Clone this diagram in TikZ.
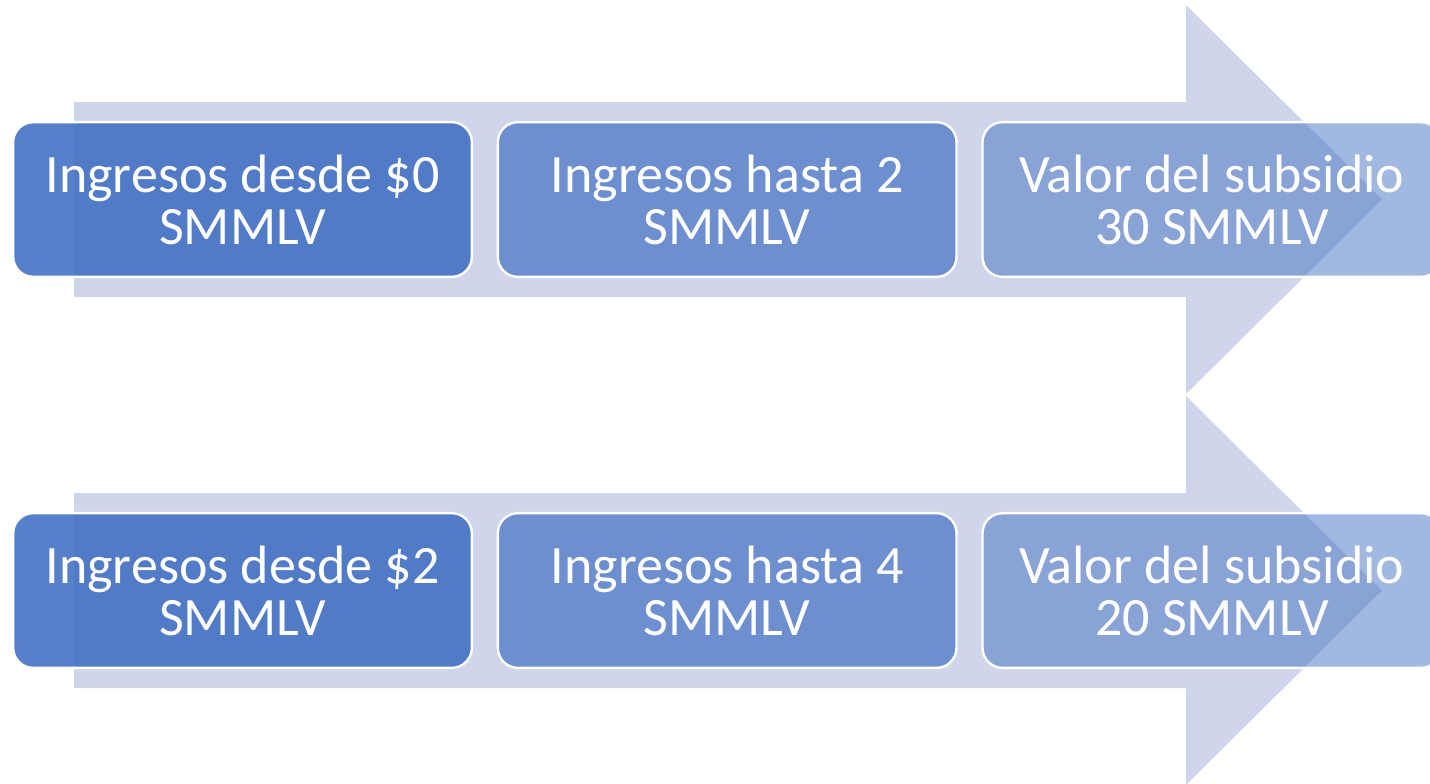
\documentclass[tikz,border=0pt]{standalone}
\usepackage{fontspec}
\setmainfont{Carlito}
\usetikzlibrary{positioning}
\definecolor{acento}{RGB}{68,114,196}
\definecolor{flecha}{RGB}{207,213,234}

\begin{document}
\begin{tikzpicture}[x=0.75pt, y=-0.75pt,
    caja/.style={draw=white, line width=1.8pt, rounded corners=15pt,
      minimum width=344pt, minimum height=116pt, inner sep=0pt, outer sep=0pt,
      align=center, text=white, font=\fontsize{40.5}{39}\selectfont},
    uno/.style={caja, fill=acento, fill opacity=0.9, text opacity=1},
    dos/.style={caja, fill=acento, fill opacity=0.7, text opacity=1},
    tres/.style={caja, fill=acento, fill opacity=0.5, text opacity=1}]
    \useasboundingbox (0,0) rectangle (1430,783);

    % Flechas de fondo
    \fill[flecha] (74,102) -- (1186,102) -- (1186,5) -- (1382,199.5)
      -- (1186,394) -- (1186,297) -- (74,297) -- cycle;
    \fill[flecha] (74,493) -- (1186,493) -- (1186,396) -- (1382,590.5)
      -- (1186,785) -- (1186,688) -- (74,688) -- cycle;

    % Primera fila
    \node[uno] (desde0) at (242.5,199.5) {Ingresos desde \$0\\SMMLV};
    \node[dos, right=19.5pt of desde0] (hasta2) {Ingresos hasta 2\\SMMLV};
    \node[tres, right=19.5pt of hasta2] (valor30) {Valor del subsidio\\30 SMMLV};

    % Segunda fila
    \node[uno] (desde2) at (242.5,590.5) {Ingresos desde \$2\\SMMLV};
    \node[dos, right=19.5pt of desde2] (hasta4) {Ingresos hasta 4\\SMMLV};
    \node[tres, right=19.5pt of hasta4] (valor20) {Valor del subsidio\\20 SMMLV};
  \end{tikzpicture}
\end{document}
